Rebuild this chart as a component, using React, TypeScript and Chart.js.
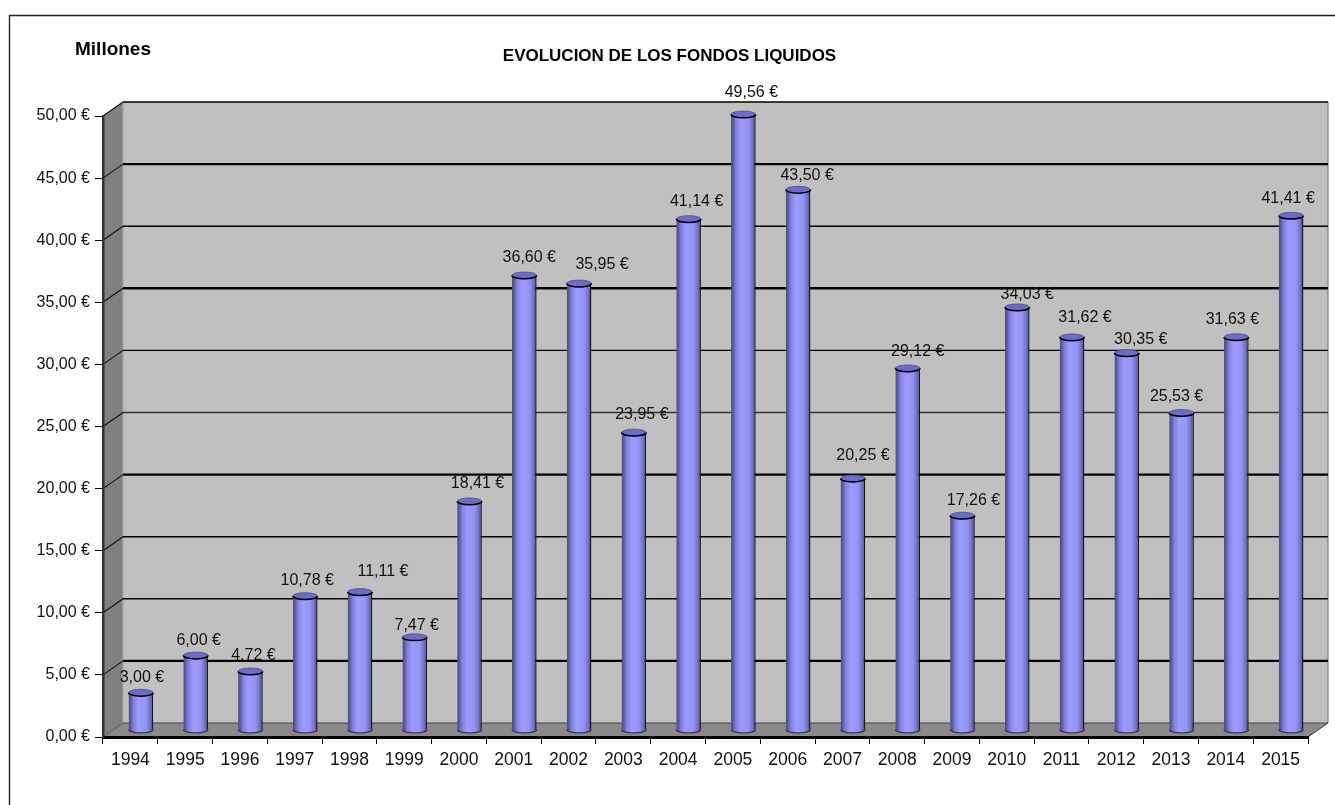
import React, { useEffect, useRef } from "react";
import { Chart, registerables } from "chart.js";

Chart.register(...registerables);

const years = ["1994","1995","1996","1997","1998","1999","2000","2001","2002","2003","2004","2005","2006","2007","2008","2009","2010","2011","2012","2013","2014","2015"];
const fondos = [3.0,6.0,4.72,10.78,11.11,7.47,18.41,36.6,35.95,23.95,41.14,49.56,43.5,20.25,29.12,17.26,34.03,31.62,30.35,25.53,31.63,41.41];
const yTicks = [0,5,10,15,20,25,30,35,40,45,50];
const heavyGrid = [5,20,35,45];

const titleText = "EVOLUCION DE LOS FONDOS LIQUIDOS";
const unitText = "Millones";

// Layout nudges of the value labels relative to the top of each cylinder
const labelDx = [1,3,3,2,23,2,8,5,23,8,8,8,9,10,10,11,10,13,14,-5,-4,-3];
const labelDy = [-15,-15,-16,-16,-20,-12,-18,-18,-19,-18,-17,-22,-14,-23,-17,-15,-13,-20,-13,-16,-18,-17];

const FONT = '"Liberation Sans", Arial, sans-serif';
const BAR_RATIO = 0.45;
const depth = { x: 20, y: -14 };
const mid = { x: 10.5, y: -7 };
const fmt = (v: number) => v.toFixed(2).replace(".", ",") + " €";

const scene3d = {
  id: "scene3d",
  afterLayout(chart: any) {
    // the title is centred on the frame, not on the plot
    if (chart.titleBlock) {
      chart.titleBlock.left = 4;
      chart.titleBlock.right = 1335;
    }
  },
  beforeDraw(chart: any) {
    const { ctx, chartArea: a, scales } = chart;
    const y = scales.y;
    ctx.save();
    // outer frame: only top and left edges are in the picture
    ctx.strokeStyle = "#222";
    ctx.lineWidth = 1.4;
    ctx.beginPath();
    ctx.moveTo(9.5, 805);
    ctx.lineTo(9.5, 15.5);
    ctx.lineTo(1335, 15.5);
    ctx.stroke();
    // back wall
    ctx.fillStyle = "#c0c0c0";
    ctx.fillRect(a.left + depth.x, a.top + depth.y, a.width, a.height);
    // left wall
    ctx.fillStyle = "#808080";
    ctx.beginPath();
    ctx.moveTo(a.left, a.top);
    ctx.lineTo(a.left + depth.x, a.top + depth.y);
    ctx.lineTo(a.left + depth.x, a.bottom + depth.y);
    ctx.lineTo(a.left, a.bottom);
    ctx.closePath();
    ctx.fill();
    // floor
    ctx.fillStyle = "#8a8a8a";
    ctx.beginPath();
    ctx.moveTo(a.left, a.bottom);
    ctx.lineTo(a.left + depth.x, a.bottom + depth.y);
    ctx.lineTo(a.right + depth.x, a.bottom + depth.y);
    ctx.lineTo(a.right, a.bottom);
    ctx.closePath();
    ctx.fill();
    // wall edges
    ctx.strokeStyle = "#a6a6a6";
    ctx.lineWidth = 1.5;
    ctx.beginPath();
    ctx.moveTo(a.left + depth.x, a.top + depth.y);
    ctx.lineTo(a.left + depth.x, a.bottom + depth.y);
    ctx.stroke();
    ctx.strokeStyle = "#808080";
    ctx.lineWidth = 1.2;
    ctx.beginPath();
    ctx.moveTo(a.right + depth.x, a.top + depth.y);
    ctx.lineTo(a.right + depth.x, a.bottom + depth.y);
    ctx.stroke();
    ctx.strokeStyle = "#333";
    ctx.lineWidth = 1;
    ctx.beginPath();
    ctx.moveTo(a.right + depth.x, a.bottom + depth.y);
    ctx.lineTo(a.right, a.bottom);
    ctx.stroke();
    // grid on the back wall and its diagonal on the left wall
    yTicks.forEach((t) => {
      const py = y.getPixelForValue(t);
      const heavy = heavyGrid.includes(t);
      ctx.strokeStyle = t === 0 ? "#444" : t === 25 ? "#333" : "#000";
      ctx.lineWidth = heavy ? 2.4 : t === 0 ? 1.1 : 1.4;
      ctx.beginPath();
      ctx.moveTo(a.left + depth.x, py + depth.y);
      ctx.lineTo(a.right + depth.x, py + depth.y);
      ctx.stroke();
      ctx.lineWidth = 1.1;
      ctx.strokeStyle = t === 0 ? "#666" : "#111";
      ctx.beginPath();
      ctx.moveTo(a.left, py);
      ctx.lineTo(a.left + depth.x, py + depth.y);
      ctx.stroke();
    });
    ctx.restore();
  },
  beforeDatasetDraw(chart: any) {
    chart.ctx.save();
    chart.ctx.translate(mid.x, mid.y);
    // lower rims, under the bodies
    const meta = chart.getDatasetMeta(0);
    meta.data.forEach((bar: any) => {
      const rx = bar.width / 2;
      const ctx = chart.ctx;
      ctx.beginPath();
      ctx.ellipse(bar.x, bar.base, rx, 3.5, 0, 0, Math.PI);
      ctx.fillStyle = "#5a5ac0";
      ctx.fill();
      ctx.strokeStyle = "#2a2a55";
      ctx.lineWidth = 1.1;
      ctx.stroke();
    });
  },
  afterDatasetDraw(chart: any) {
    const ctx = chart.ctx;
    const meta = chart.getDatasetMeta(0);
    meta.data.forEach((bar: any) => {
      const rx = bar.width / 2;
      // bottom bulge with the body gradient
      ctx.beginPath();
      ctx.ellipse(bar.x, bar.base - 0.5, rx - 0.5, 3.2, 0, 0, Math.PI);
      ctx.fillStyle = bar.options.backgroundColor;
      ctx.fill();
      // cap
      ctx.beginPath();
      ctx.ellipse(bar.x, bar.y, rx, 3.4, 0, 0, Math.PI * 2);
      ctx.fillStyle = "#6c6cc8";
      ctx.fill();
      ctx.strokeStyle = "#50506a";
      ctx.lineWidth = 0.8;
      ctx.stroke();
      ctx.beginPath();
      ctx.ellipse(bar.x, bar.y, rx, 3.4, 0, 0, Math.PI);
      ctx.strokeStyle = "#000";
      ctx.lineWidth = 1.5;
      ctx.stroke();
    });
    ctx.restore();
  },
  afterDraw(chart: any) {
    const { ctx, scales } = chart;
    ctx.save();
    ctx.fillStyle = "#111";
    ctx.textBaseline = "middle";
    ctx.textAlign = "center";
    ctx.font = `16px ${FONT}`;
    const meta = chart.getDatasetMeta(0);
    meta.data.forEach((bar: any, i: number) => {
      ctx.fillText(
        fmt(fondos[i]),
        bar.x + mid.x + labelDx[i],
        scales.y.getPixelForValue(fondos[i]) + mid.y + labelDy[i]
      );
    });
    ctx.fillStyle = "#000";
    ctx.font = `bold 19px ${FONT}`;
    ctx.fillText(unitText, 113, 50);
    ctx.restore();
  },
};

export default function App() {
  const ref = useRef<HTMLCanvasElement | null>(null);
  useEffect(() => {
    if (!ref.current) return;
    const chart = new Chart(ref.current, {
      type: "bar",
      data: {
        labels: years,
        datasets: [
          {
            label: "Fondos liquidos",
            data: fondos,
            categoryPercentage: 1,
            barPercentage: BAR_RATIO,
            clip: false,
            borderWidth: { left: 0, right: 1.4, top: 0, bottom: 0 },
            borderColor: "#14142a",
            borderSkipped: false,
            backgroundColor: (c: any) => {
              const s = c.chart.scales.x;
              if (!s || c.dataIndex === undefined) return "#9999ff";
              const x = s.getPixelForTick(c.dataIndex);
              const hw = (s.width / years.length) * BAR_RATIO * 0.5;
              if (!Number.isFinite(x) || !Number.isFinite(hw)) return "#9999ff";
              const g = c.chart.ctx.createLinearGradient(x - hw, 0, x + hw, 0);
              g.addColorStop(0, "#50506c");
              g.addColorStop(0.08, "#5a5a90");
              g.addColorStop(0.2, "#8080e0");
              g.addColorStop(0.4, "#9c9cff");
              g.addColorStop(0.7, "#9494f4");
              g.addColorStop(0.88, "#7070c8");
              g.addColorStop(0.96, "#4a4a90");
              g.addColorStop(1, "#222244");
              return g;
            },
          },
        ],
      },
      options: {
        responsive: false,
        animation: false,
        layout: { autoPadding: false, padding: { left: 0, right: 27, top: 0, bottom: 0 } },
        plugins: {
          legend: { display: false },
          tooltip: { enabled: false },
          title: {
            display: true,
            text: titleText,
            color: "#000",
            font: { family: FONT, size: 17, weight: "bold", lineHeight: 1.2 },
            padding: { top: 46, bottom: 49.6 },
          },
        },
        scales: {
          x: {
            afterFit: (s: any) => { s.height = 68; },
            border: { display: true, color: "#000", width: 3 },
            grid: { drawOnChartArea: false, drawTicks: true, tickLength: 7, color: "#000", lineWidth: 1 },
            ticks: {
              color: "#111",
              font: { family: FONT, size: 17.5 },
              padding: 6,
              maxRotation: 0,
              autoSkip: false,
            },
          },
          y: {
            min: 0,
            max: 50,
            afterFit: (s: any) => { s.width = 103; },
            border: { display: true, color: "#333", width: 2.5 },
            grid: { drawOnChartArea: false, drawTicks: true, tickLength: 8, color: "#000", lineWidth: 1 },
            ticks: {
              stepSize: 5,
              color: "#111",
              font: { family: FONT, size: 16 },
              padding: 5,
              callback: (v: any) => fmt(Number(v)),
            },
          },
        },
      },
      plugins: [scene3d],
    } as any);
    return () => chart.destroy();
  }, []);
  return (
    <div style={{ position: "absolute", left: 0, top: 0, width: 1335, height: 805 }}>
      <canvas ref={ref} width={1335} height={805} style={{ display: "block" }} />
    </div>
  );
}
